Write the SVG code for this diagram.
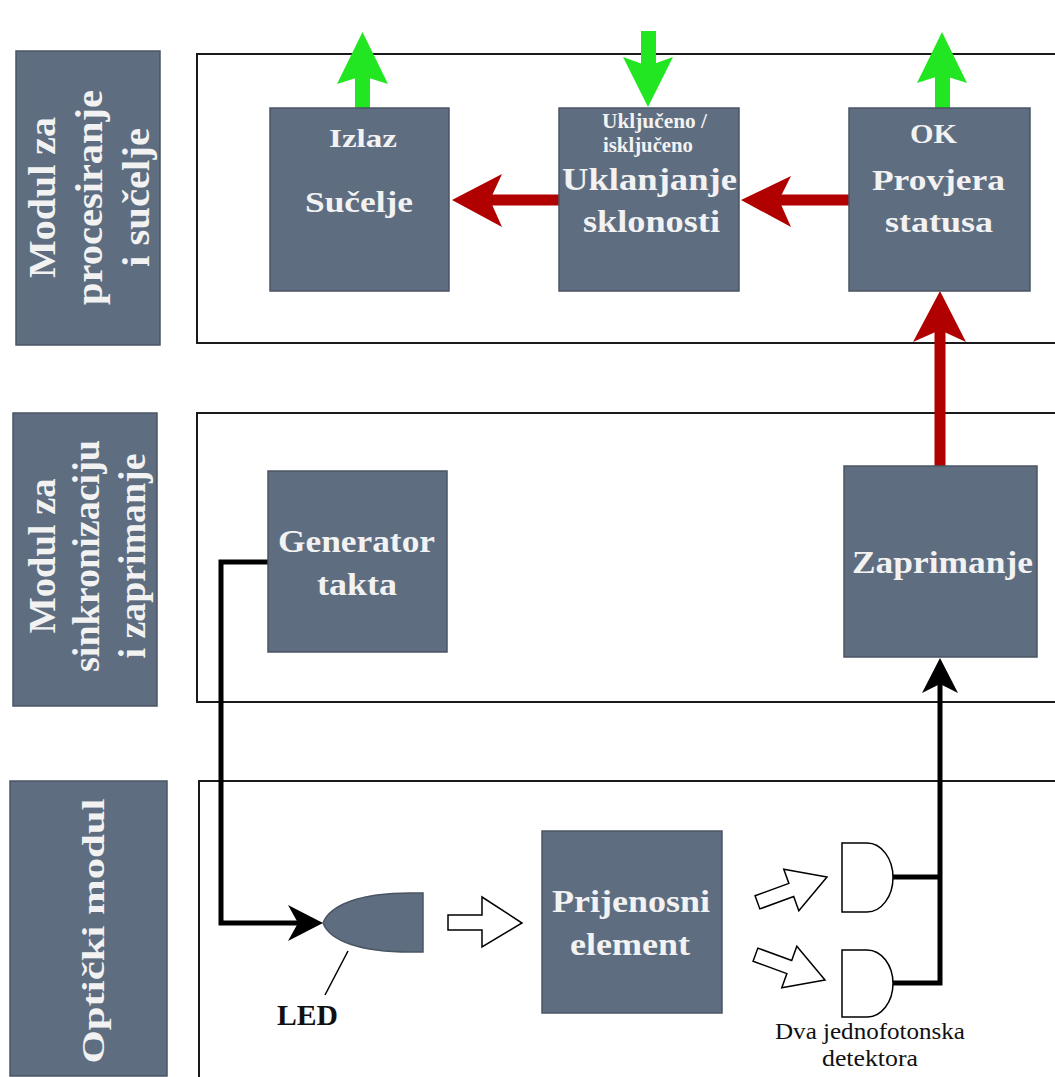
<svg xmlns="http://www.w3.org/2000/svg" width="1055" height="1077" viewBox="0 0 1055 1077">
<style>
.frame{fill:none;stroke:#1a1a1a;stroke-width:2}
.box{fill:#5e6d80;stroke:#4a5564;stroke-width:1.5}
.lbl{fill:#f2f2f2;font-family:"Liberation Serif","Times New Roman",serif;font-weight:bold;text-anchor:middle}
.blk{fill:#111;font-family:"Liberation Serif","Times New Roman",serif;text-anchor:middle}
.red{fill:#b00000}
.green{fill:#22e622}
.wire{fill:none;stroke:#000;stroke-width:5}
.hollow{fill:#fff;stroke:#000;stroke-width:1.5;stroke-linejoin:miter}
</style>
<rect width="1055" height="1077" fill="#fff"/>

<g id="frames">
<rect class="frame" x="197" y="54" width="900" height="289"/>
<rect class="frame" x="197" y="413" width="900" height="289"/>
<rect class="frame" x="199" y="781" width="900" height="320"/>
</g>

<g id="mod-procesiranje">
<rect class="box" x="16" y="51" width="144" height="294"/>
<g transform="translate(0,197.5) rotate(-90)">
<text class="lbl" x="0" y="55" font-size="38" textLength="161" lengthAdjust="spacingAndGlyphs">Modul za</text>
<text class="lbl" x="0" y="102" font-size="38" textLength="215" lengthAdjust="spacingAndGlyphs">procesiranje</text>
<text class="lbl" x="0" y="149" font-size="38" textLength="139" lengthAdjust="spacingAndGlyphs">i sučelje</text>
</g>
</g>

<g id="mod-sinkronizacija">
<rect class="box" x="13" y="413" width="144" height="293"/>
<g transform="translate(0,556) rotate(-90)">
<text class="lbl" x="0" y="55" font-size="38" textLength="155" lengthAdjust="spacingAndGlyphs">Modul za</text>
<text class="lbl" x="0" y="99" font-size="38" textLength="232" lengthAdjust="spacingAndGlyphs">sinkronizaciju</text>
<text class="lbl" x="0" y="145" font-size="38" textLength="205" lengthAdjust="spacingAndGlyphs">i zaprimanje</text>
</g>
</g>

<g id="mod-opticki">
<rect class="box" x="10" y="781" width="157" height="295"/>
<g transform="translate(0,931) rotate(-90)">
<text class="lbl" x="0" y="104" font-size="32" textLength="265" lengthAdjust="spacingAndGlyphs">Optički modul</text>
</g>
</g>

<g id="connectors">
<!-- green -->
<rect class="green" x="355" y="74" width="15" height="34"/>
<polygon class="green" points="362.5,32 337,84 362.5,76 388,84"/>
<rect class="green" x="641" y="31" width="15" height="36"/>
<polygon class="green" points="648,107 623,57 648,66 673,57"/>
<rect class="green" x="935" y="74" width="15" height="34"/>
<polygon class="green" points="942,32 917,83 942,75 967,83"/>
<!-- red -->
<rect class="red" x="488" y="194.5" width="71" height="11"/>
<polygon class="red" points="452,200 502,174 490,200 502,227"/>
<rect class="red" x="777" y="194.5" width="72" height="11"/>
<polygon class="red" points="741,200 791,176 779,200 791,227"/>
<rect class="red" x="934.5" y="328" width="11" height="138"/>
<polygon class="red" points="940,291 913,342 940,330 966,342"/>
<!-- black -->
<path class="wire" d="M268,562 H221 V923 H300"/>
<polygon fill="#000" points="323,923 288,905 298,923 288,941"/>
<path class="wire" d="M893,877 H940 M893,983 H942.5 M940,985.5 V682"/>
<polygon fill="#000" points="940,658 922,693 940,684 958,693"/>
<!-- hollow light arrows -->
<polygon class="hollow" points="448,915 482,915 482,897 522,923 482,947 482,930 448,930"/>
<polygon class="hollow" transform="translate(827,877) rotate(-20)" points="-74,-7 -38,-7 -38,-22 0,0 -38,22 -38,7 -74,7"/>
<polygon class="hollow" transform="translate(825,980) rotate(20)" points="-74,-7 -38,-7 -38,-22 0,0 -38,22 -38,7 -74,7"/>
<!-- LED leader -->
<line x1="348" y1="951" x2="325" y2="995" stroke="#000" stroke-width="1.5"/>
</g>

<g id="node-sucelje">
<rect class="box" x="270" y="108" width="179" height="183"/>
<text class="lbl" x="363" y="147" font-size="26" textLength="68" lengthAdjust="spacingAndGlyphs">Izlaz</text>
<text class="lbl" x="359" y="212" font-size="30" textLength="108" lengthAdjust="spacingAndGlyphs">Sučelje</text>
</g>

<g id="node-uklanjanje">
<rect class="box" x="559" y="108" width="180" height="183"/>
<text class="lbl" x="654.5" y="128" font-size="20" textLength="105" lengthAdjust="spacingAndGlyphs">Uključeno /</text>
<text class="lbl" x="648" y="152" font-size="20" textLength="90" lengthAdjust="spacingAndGlyphs">isključeno</text>
<text class="lbl" x="649.5" y="190" font-size="32" textLength="175" lengthAdjust="spacingAndGlyphs">Uklanjanje</text>
<text class="lbl" x="651.5" y="232" font-size="32" textLength="137" lengthAdjust="spacingAndGlyphs">sklonosti</text>
</g>

<g id="node-provjera">
<rect class="box" x="849" y="108" width="181" height="183"/>
<text class="lbl" x="933.5" y="143" font-size="28" textLength="47" lengthAdjust="spacingAndGlyphs">OK</text>
<text class="lbl" x="938.5" y="190" font-size="30" textLength="133" lengthAdjust="spacingAndGlyphs">Provjera</text>
<text class="lbl" x="939" y="232" font-size="30" textLength="108" lengthAdjust="spacingAndGlyphs">statusa</text>
</g>

<g id="node-generator">
<rect class="box" x="268" y="471" width="179" height="181"/>
<text class="lbl" x="356.5" y="552" font-size="32" textLength="157" lengthAdjust="spacingAndGlyphs">Generator</text>
<text class="lbl" x="357" y="595" font-size="32" textLength="80" lengthAdjust="spacingAndGlyphs">takta</text>
</g>

<g id="node-zaprimanje">
<rect class="box" x="844" y="466" width="193" height="191"/>
<text class="lbl" x="942.5" y="573" font-size="32" textLength="181" lengthAdjust="spacingAndGlyphs">Zaprimanje</text>
</g>

<g id="node-prijenosni">
<rect class="box" x="542" y="831" width="180" height="182"/>
<text class="lbl" x="631" y="912" font-size="32" textLength="158" lengthAdjust="spacingAndGlyphs">Prijenosni</text>
<text class="lbl" x="630" y="955" font-size="32" textLength="120" lengthAdjust="spacingAndGlyphs">element</text>
</g>

<g id="node-led">
<path class="box" d="M423,893 L410,893 C360,893 330,905 323,923 C330,941 360,952 410,952 L423,952 Z"/>
<text class="blk" x="307.5" y="1025" font-size="30" font-weight="bold" textLength="61" lengthAdjust="spacingAndGlyphs">LED</text>
</g>

<g id="node-detektori">
<path class="hollow" d="M842,843 H867 A26,34.5 0 0 1 867,912 H842 Z"/>
<path class="hollow" d="M842,950 H867 A26,33.5 0 0 1 867,1017 H842 Z"/>
<text class="blk" x="870" y="1039" font-size="23" textLength="190" lengthAdjust="spacingAndGlyphs">Dva jednofotonska</text>
<text class="blk" x="870" y="1066" font-size="23" textLength="96" lengthAdjust="spacingAndGlyphs">detektora</text>
</g>
</svg>
